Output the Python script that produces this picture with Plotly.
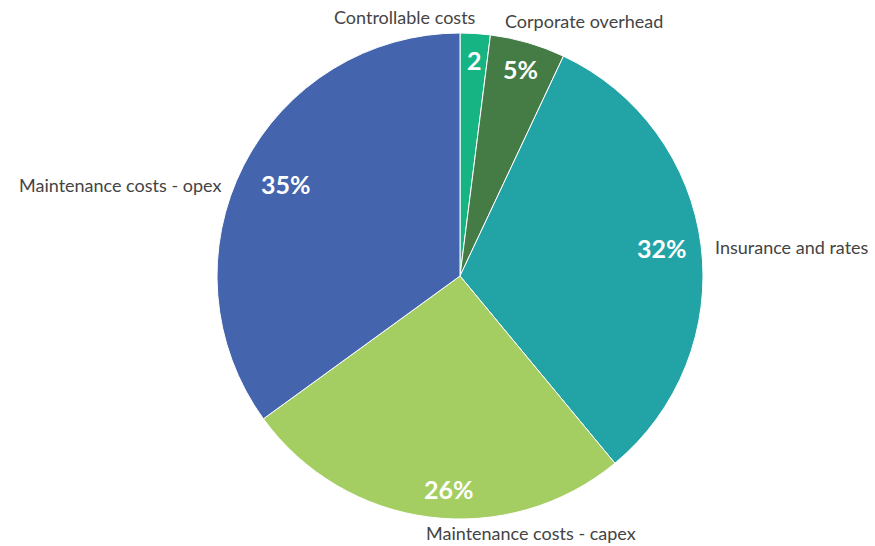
import math
import plotly.graph_objects as go

# ---- data ----
categories = ["Controllable costs", "Corporate overhead", "Insurance and rates",
              "Maintenance costs - capex", "Maintenance costs - opex"]
values = [2, 5, 32, 26, 35]
pct_labels = ["2", "5%", "32%", "26%", "35%"]
colors = ["#17B483", "#457C45", "#22A3A6", "#A4CE62", "#4464AD"]

W, H = 875, 546
CX, CY, R = 460, 276, 243

fig = go.Figure(go.Pie(
    labels=categories, values=values, sort=False, direction="clockwise", rotation=0,
    marker=dict(colors=colors, line=dict(color="white", width=1)),
    textinfo="none", hoverinfo="label+percent", showlegend=False,
    domain=dict(x=[(CX - R) / W, (CX + R) / W], y=[(H - CY - R) / H, (H - CY + R) / H]),
))

total = sum(values)
cum = 0
annotations = []
# per-label name offsets (xanchor, xshift, yshift) to mimic reference layout
name_style = [("right", 2, 6), ("left", -28, 12), ("left", 2, -3), ("left", -4, -6), ("right", -12, -24)]
pct_radius = [216, 216, 204, 215, 198]
pct_shift = [(1, 0), (0, 0), (0, 2), (16, 0), (2, 2)]
for i, v in enumerate(values):
    mid = (cum + v / 2) / total * 2 * math.pi
    cum += v
    s, c = math.sin(mid), math.cos(mid)
    # percent label inside
    pr = pct_radius[i]
    px, py = CX + pr * s, CY - pr * c
    annotations.append(dict(
        x=px / W, y=(H - py) / H, xref="paper", yref="paper", showarrow=False,
        text="<b>%s</b>" % pct_labels[i], xanchor="center", yanchor="middle",
        xshift=pct_shift[i][0], yshift=pct_shift[i][1],
        font=dict(family="Lato, Noto Sans, sans-serif", size=25, color="white")))
    # name label outside
    nr = R + 10
    nx, ny = CX + nr * s, CY - nr * c
    xa, xs, ys = name_style[i]
    annotations.append(dict(
        x=nx / W, y=(H - ny) / H, xref="paper", yref="paper", showarrow=False,
        text=categories[i], xanchor=xa, yanchor="middle", xshift=xs, yshift=ys,
        font=dict(family="Lato, Noto Sans, sans-serif", size=18, color="#444444")))

fig.update_layout(
    width=W, height=H, margin=dict(l=0, r=0, t=0, b=0),
    paper_bgcolor="white", plot_bgcolor="white",
    annotations=annotations,
)
fig.write_html("out.html")
